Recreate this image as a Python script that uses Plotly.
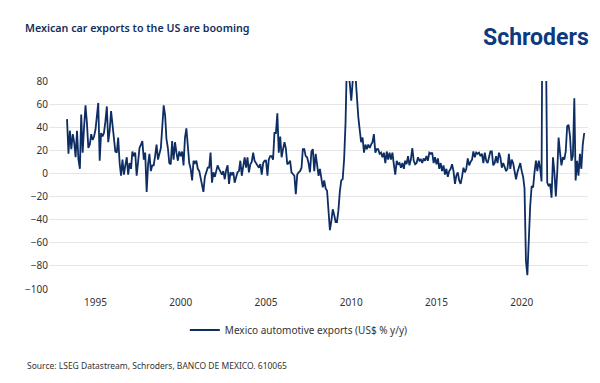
import pandas as pd
import plotly.graph_objects as go

# Monthly y/y % change, Mexico automotive exports (US$), starting May 1993
start_month = "1993-05-01"
vals_1993_1999 = [47, 17, 37, 21, 34, 27, 14, 37, 12, 4,
                  51, 18, 40, 59, 44, 22, 25, 34, 29, 32,
                  38, 48, 61, 11, 35, 32, 35, 45, 58, 27,
                  37, 54, 40, 28, 19, 18, 31, 9, -2, 12,
                  -1, 7, 14, -1, 9, 4, 19, 15, 18, -2,
                  11, 22, 25, 28, 12, 18, -16, 8, 17, 2,
                  7, 7, 15, 25, 12, 18, 22, 40, 59, 50]
vals_1999_2005 = [30, 22, 9, 8, 28, 12, 27, 18, 11, 19,
                  15, 19, 7, 31, 39, 24, 9, 4, -6, 11,
                  9, 11, 4, 2, -3, -8, -16, -3, 1, 5,
                  5, 18, -8, 1, -3, 2, 7, 4, 1, -1,
                  2, -5, 3, 7, -9, 1, -1, 1, -8, -3,
                  1, 2, 11, -2, 5, 14, 5, 14, 1, 8,
                  10, 18, 11, 9, 8, 5, 8, -1, 9, 11,
                  11, -2, 12, 15]
vals_2005_2011 = [15, 12, 35, 35, 52, 18, 32, 14, 21, 27,
                  22, 8, 9, 11, 1, -1, -2, -18, -1, 1,
                  2, 5, 21, 21, 15, 14, 9, 1, 19, 21,
                  2, 17, 8, -2, 4, -5, -12, -6, -13, -15,
                  -36, -49, -41, -31, -36, -42, -42, -32, -16, -6,
                  -5, 12, 44, 100, 85, 78, 63, 82, 95, 85,
                  62, 49, 38, 27, 31, 18, 25, 21, 25, 22]
vals_2011_2017 = [25, 27, 34, 18, 21, 21, 17, 18, 14, 18,
                  9, 19, 12, 18, 12, 18, 8, -1, 11, 8,
                  9, 5, 9, 4, 11, 8, 15, 7, 12, 22,
                  11, 8, 9, 14, 11, 12, 9, 13, 11, 15,
                  11, 18, 17, 18, 9, 14, 8, 13, 4, 9,
                  2, 7, -1, 4, -3, 2, 4, 8, 2, -9,
                  -2, 1, -6, -9, -3, 5, 1, 4, 13, 7,
                  10, 12, 19, 14, 18, 17, 18, 15]
vals_2017_2023 = [17, 9, 18, 11, 9, 15, 19, 19, 7, 9,
                  15, 9, 18, 14, 5, 9, 5, 2, 4, 17,
                  4, 12, 9, 1, -5, 1, 5, 9, 2, -3,
                  -13, -76, -88, -56, -28, -11, -12, 1, 11, 2,
                  11, 4, -7, 250, 600, 120, -8, -11, -9, -21,
                  14, 1, -20, 2, 31, 18, 7, 14, 12, 19,
                  41, 42, 32, 11, 15, 65, -6, 11, -2, 17,
                  4, 25, 35]

values = vals_1993_1999 + vals_1999_2005 + vals_2005_2011 + vals_2011_2017 + vals_2017_2023
dates = pd.date_range(start=start_month, periods=len(values), freq="MS")

x_tick_years = [1995, 2000, 2005, 2010, 2015, 2020]
y_ticks = [80, 60, 40, 20, 0, -20, -40, -60, -80, -100]

series_name = "Mexico automotive exports (US$ % y/y)"
title_text = "Mexican car exports to the US are booming"
source_text = "Source: LSEG Datastream, Schroders, BANCO DE MEXICO. 610065"

NAVY = "#0d2d63"
FONT = "Noto Sans"

fig = go.Figure()
fig.add_trace(go.Scatter(x=dates, y=values, mode="lines", name=series_name,
                         line=dict(color=NAVY, width=1.8)))

fig.update_layout(
    width=600, height=383,
    margin=dict(l=41, r=20, t=73, b=102, autoexpand=False),
    paper_bgcolor="white", plot_bgcolor="white",
    font=dict(family=FONT, size=10, color="#333333"),
    title=dict(text=title_text, xref="container", x=17 / 600, xanchor="left",
               yref="container", y=1 - 20 / 383, yanchor="middle",
               font=dict(family=FONT, size=10.7, color="#122f5f", weight=600)),
    showlegend=True,
    legend=dict(orientation="h", x=0.252, xanchor="left", y=-0.197, yanchor="middle",
                font=dict(family=FONT, size=10, color="#333333"),
                bgcolor="rgba(0,0,0,0)"),
    annotations=[
        dict(text="Schroders", xref="paper", yref="paper", x=1.006, y=1.207,
             xanchor="right", yanchor="middle", showarrow=False,
             font=dict(family="Roboto", size=23, color="#0b3a7e", weight=700)),
        dict(text=source_text, xref="paper", yref="paper", x=(17 - 41) / 539,
             y=(281 - 357) / 208, xanchor="left", yanchor="middle", showarrow=False,
             font=dict(family=FONT, size=8.5, color="#333333")),
    ],
)

fig.update_xaxes(
    type="date", automargin=False,
    range=["1992-04-10", "2023-11-21"],
    tickvals=[pd.Timestamp(f"{y}-01-01") for y in x_tick_years],
    ticktext=[str(y) for y in x_tick_years],
    showgrid=False, zeroline=False, showline=False, ticks="",
    ticklabelstandoff=6,
    tickfont=dict(family=FONT, size=10, color="#333333"),
)
fig.update_yaxes(
    range=[-100, 80], automargin=False,
    tickvals=y_ticks,
    showgrid=True, gridcolor="#e6e6e6", gridwidth=1,
    zeroline=False, showline=False, ticks="",
    tickfont=dict(family=FONT, size=10, color="#333333"),
)

fig.write_html("out.html")
